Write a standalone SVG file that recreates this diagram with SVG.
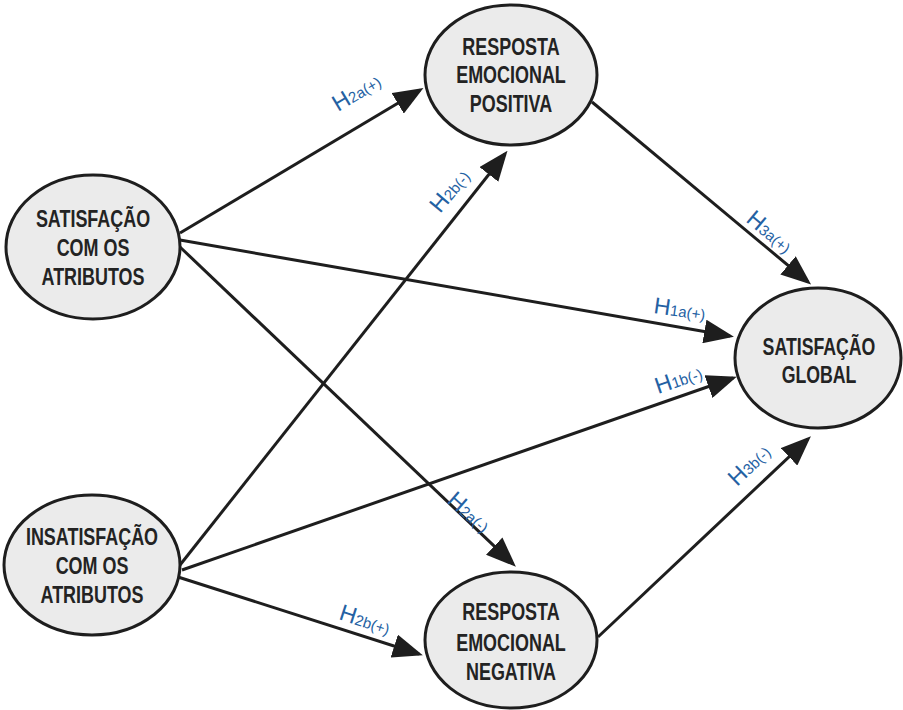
<svg xmlns="http://www.w3.org/2000/svg" width="903" height="710" viewBox="0 0 903 710">
<style>
.node ellipse{fill:#ebebeb;stroke:#1e1e1e;stroke-width:3}
.node text{font-family:"Liberation Sans",Arial,sans-serif;font-weight:bold;font-size:23px;fill:#232323;text-anchor:middle}
.edge{stroke:#1e1e1e;stroke-width:3;fill:none;marker-end:url(#arr)}
.lbl{font-family:"Liberation Sans",Arial,sans-serif;fill:#2461a3}
.lbl .h{font-size:23px}
.lbl .s{font-size:15px}
</style>
<defs>
<marker id="arr" markerUnits="userSpaceOnUse" markerWidth="30" markerHeight="24" refX="26" refY="12" orient="auto">
<path d="M0,0 L30,12 L0,24 z" fill="#1e1e1e"/>
</marker>
</defs>
<rect width="903" height="710" fill="#fff"/>
<g id="connectors">
<line class="edge" x1="180" y1="233" x2="420" y2="90"/>
<line class="edge" x1="180" y1="240" x2="730" y2="336"/>
<line class="edge" x1="180" y1="247" x2="513" y2="564"/>
<line class="edge" x1="180" y1="565" x2="505" y2="154"/>
<line class="edge" x1="182" y1="570" x2="733" y2="378"/>
<line class="edge" x1="178" y1="577" x2="419" y2="654"/>
<line class="edge" x1="592" y1="102" x2="808" y2="282"/>
<line class="edge" x1="598" y1="637" x2="808" y2="439"/>
</g>
<g id="labels">
<text class="lbl" transform="translate(338,112) rotate(-31)"><tspan class="h">H</tspan><tspan class="s">2a(+)</tspan></text>
<text class="lbl" transform="translate(440,214) rotate(-50)"><tspan class="h">H</tspan><tspan class="s">2b(-)</tspan></text>
<text class="lbl" transform="translate(745,221) rotate(40)"><tspan class="h">H</tspan><tspan class="s">3a(+)</tspan></text>
<text class="lbl" transform="translate(653,313) rotate(8)"><tspan class="h">H</tspan><tspan class="s">1a(+)</tspan></text>
<text class="lbl" transform="translate(658,394) rotate(-19)"><tspan class="h">H</tspan><tspan class="s">1b(-)</tspan></text>
<text class="lbl" transform="translate(737,487) rotate(-44)"><tspan class="h">H</tspan><tspan class="s">3b(-)</tspan></text>
<text class="lbl" transform="translate(446,502) rotate(41)"><tspan class="h">H</tspan><tspan class="s">2a(-)</tspan></text>
<text class="lbl" transform="translate(338,619) rotate(18)"><tspan class="h">H</tspan><tspan class="s">2b(+)</tspan></text>
</g>
<g id="n-sat-atributos" class="node">
<ellipse cx="93" cy="247" rx="87" ry="72"/>
<g transform="translate(93,0) scale(0.78,1)">
<text x="0" y="227">SATISFAÇÃO</text>
<text x="0" y="256">COM OS</text>
<text x="0" y="285">ATRIBUTOS</text>
</g>
</g>
<g id="n-insat-atributos" class="node">
<ellipse cx="92" cy="565" rx="88" ry="70"/>
<g transform="translate(92,0) scale(0.78,1)">
<text x="0" y="545">INSATISFAÇÃO</text>
<text x="0" y="574">COM OS</text>
<text x="0" y="603">ATRIBUTOS</text>
</g>
</g>
<g id="n-resp-positiva" class="node">
<ellipse cx="511" cy="75" rx="86" ry="70"/>
<g transform="translate(511,0) scale(0.78,1)">
<text x="0" y="55">RESPOSTA</text>
<text x="0" y="83">EMOCIONAL</text>
<text x="0" y="112">POSITIVA</text>
</g>
</g>
<g id="n-resp-negativa" class="node">
<ellipse cx="511" cy="640" rx="86" ry="68"/>
<g transform="translate(511,0) scale(0.78,1)">
<text x="0" y="620">RESPOSTA</text>
<text x="0" y="651">EMOCIONAL</text>
<text x="0" y="680">NEGATIVA</text>
</g>
</g>
<g id="n-sat-global" class="node">
<ellipse cx="818" cy="358" rx="83" ry="70"/>
<g transform="translate(819,0) scale(0.77,1)">
<text x="0" y="355">SATISFAÇÃO</text>
<text x="0" y="383">GLOBAL</text>
</g>
</g>
</svg>
